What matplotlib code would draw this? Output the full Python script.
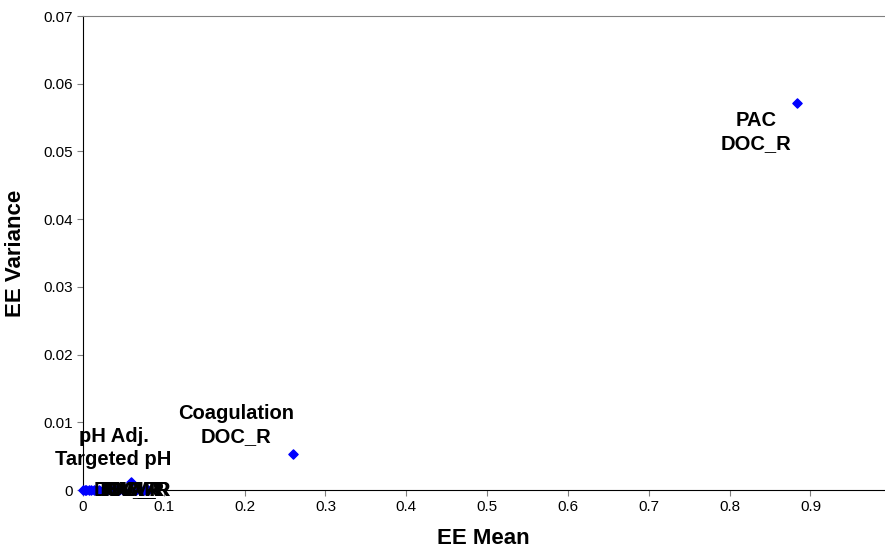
import matplotlib
matplotlib.use("Agg")
import matplotlib.pyplot as plt

plt.rcParams['font.family'] = ['Liberation Sans', 'DejaVu Sans']

# EE mean / variance per treatment
ee_mean = [0.0, 0.002, 0.004, 0.007, 0.010, 0.013, 0.016, 0.020, 0.025, 0.030,
           0.035, 0.040, 0.045, 0.050, 0.059, 0.065, 0.070, 0.075, 0.080,
           0.26, 0.883]
ee_var = [0.0, 0.0, 0.0, 0.0, 0.0, 0.0, 0.0, 0.0, 0.0, 0.0,
          0.0, 0.0, 0.0, 0.0, 0.0012, 0.0, 0.0, 0.0, 0.0,
          0.0053, 0.0572]

# labelled points: (index, text, offset in points)
labels = [(20, "PAC\nDOC_R", (-29, -21)),
          (19, "Coagulation\nDOC_R", (-41, 21)),
          (0, "pH Adj.\nTargeted pH", (22, 30))]
clutter = ["DOC_R", "TOC_R", "UV_R", "SUVA", "THM_R", "HAA_R"]
clutter_x = [0.057, 0.059, 0.061, 0.063, 0.065, 0.066]

fig = plt.figure(figsize=(8.85, 5.52), dpi=100)
ax = fig.add_axes([83/885, 1-490/552, 801/885, 474/552])

ax.scatter(ee_mean, ee_var, marker='D', s=22, color='#0000ff', zorder=3,
           clip_on=False)

for i, txt, off in labels:
    ax.annotate(txt, (ee_mean[i], ee_var[i]), xytext=off,
                textcoords='offset points', ha='center', va='center',
                fontsize=14.5, fontweight='bold', linespacing=1.25)

for x, txt in zip(clutter_x, clutter):
    ax.annotate(txt, (x, 0), xytext=(0, 0), textcoords='offset points',
                ha='center', va='center', fontsize=14.5, fontweight='bold',
                zorder=4)

ax.set_xlim(0, 0.991)
ax.set_ylim(0, 0.07)
ax.set_xticks([0, 0.1, 0.2, 0.3, 0.4, 0.5, 0.6, 0.7, 0.8, 0.9])
ax.set_xticklabels(["0", "0.1", "0.2", "0.3", "0.4", "0.5", "0.6", "0.7", "0.8", "0.9"])
ax.set_yticks([0, 0.01, 0.02, 0.03, 0.04, 0.05, 0.06, 0.07])
ax.set_yticklabels(["0", "0.01", "0.02", "0.03", "0.04", "0.05", "0.06", "0.07"])
ax.tick_params(labelsize=11, direction='out', length=4, color='#808080')

ax.spines['right'].set_visible(False)
ax.spines['top'].set_color('#808080')
ax.spines['left'].set_color('black')
ax.spines['bottom'].set_color('black')

ax.set_xlabel("EE Mean", fontsize=16, fontweight='bold', labelpad=10)
ax.set_ylabel("EE Variance", fontsize=16, fontweight='bold', labelpad=12)

fig.savefig("out.png", dpi=100)
